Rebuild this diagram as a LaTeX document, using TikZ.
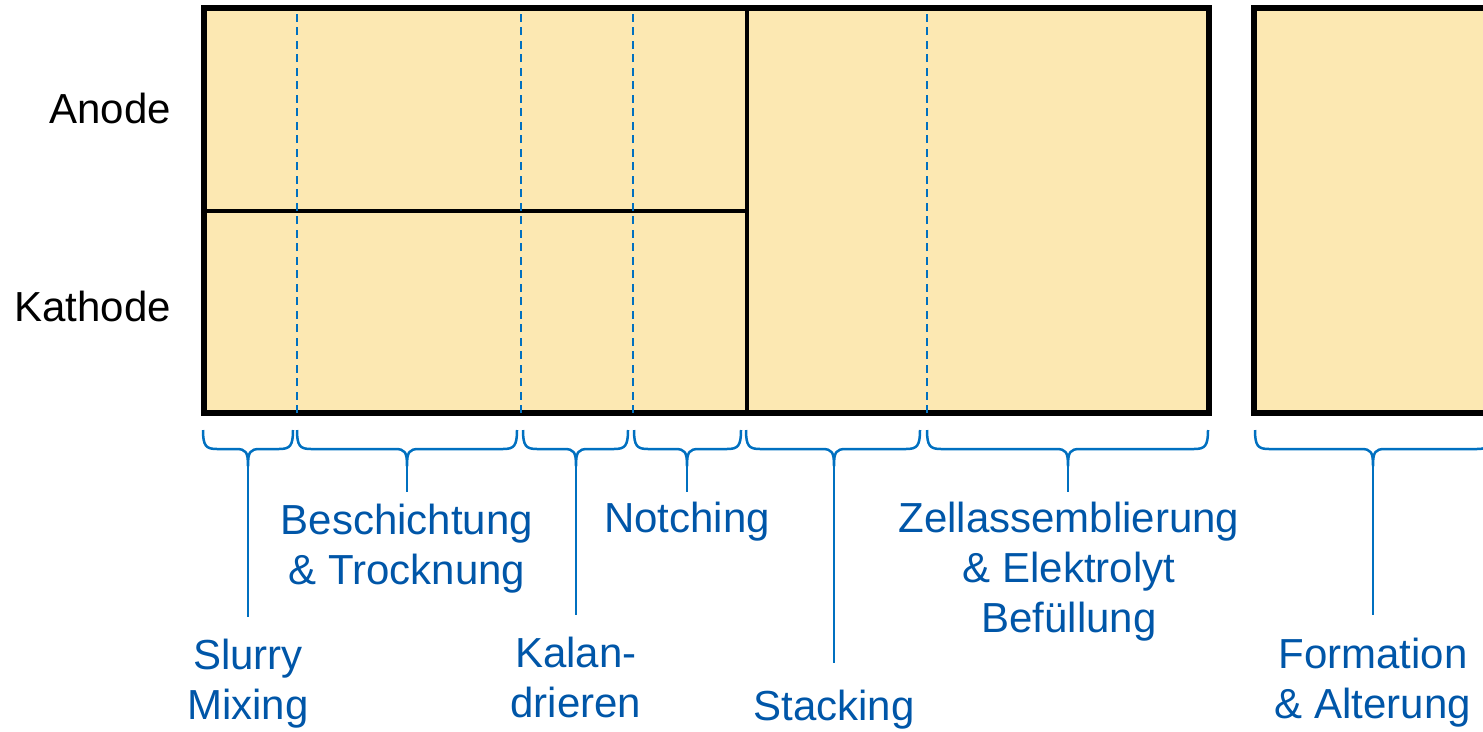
\documentclass[tikz,border=0pt]{standalone}
\usepackage{fontspec}
\setmainfont{Liberation Sans}
\definecolor{boxfill}{HTML}{FCE8B2}
\definecolor{lineblue}{HTML}{0070C0}
\definecolor{textblue}{HTML}{0056A8}
\newcommand{\stepbrace}[4]{% left x, right x, middle x, stem end y
  \draw[bline] (#1,430) .. controls (#1,446) and (#1+3,449) .. (#1+14,449)
    -- (#3-12,449) .. controls (#3-2,449) and (#3,452) .. (#3,466)
    .. controls (#3,452) and (#3+2,449) .. (#3+12,449)
    -- (#2-14,449) .. controls (#2-3,449) and (#2,446) .. (#2,430);
  \draw[bline] (#3,466) -- (#3,#4);}
\begin{document}
\begin{tikzpicture}[x=1pt,y=-1pt,
  lbl/.style={font=\fontsize{42}{50}\selectfont, text=textblue, align=center, anchor=base, inner sep=0pt},
  side/.style={font=\fontsize{42}{50}\selectfont, anchor=base east, inner sep=0pt},
  frame/.style={draw=black, line width=6pt, fill=boxfill},
  divider/.style={draw=black, line width=4pt},
  cut/.style={draw=lineblue, line width=1.8pt, dash pattern=on 8pt off 5.5pt},
  bline/.style={draw=lineblue, line width=2.5pt, line join=round}]
\useasboundingbox (0,0) rectangle (1483,731);
\clip (0,0) rectangle (1483,731);
% main block
\draw[frame] (204,8.3) rectangle (1209,413);
\draw[divider] (204,211) -- (747,211);
\draw[divider] (747,8.3) -- (747,413);
% second block
\draw[frame] (1253.7,8.3) rectangle (1530,413);
% dashed cuts
\foreach \x in {296.7,521,633,927}
  \draw[cut] (\x,413) -- (\x,12);
% side labels
\node[side] (anode) at (171,123) {Anode};
\node[side] (kathode) at (171,321) {Kathode};
% braces
\stepbrace{203}{293}{248}{617}
\stepbrace{297}{517}{407}{492}
\stepbrace{523}{628}{576}{615}
\stepbrace{634}{741}{687}{492}
\stepbrace{746}{920}{834}{663}
\stepbrace{927}{1208}{1068}{492}
\stepbrace{1255}{1491}{1373}{615}
% labels (anchor = baseline of the last line)
\node[lbl] (slurry) at (248,719) {Slurry\\Mixing};
\node[lbl] (besch) at (407,584) {Beschichtung\\\& Trocknung};
\node[lbl] (kalan) at (576,717) {Kalan-\\drieren};
\node[lbl] (notch) at (687,532) {Notching};
\node[lbl] (stack) at (834,720) {Stacking};
\node[lbl] (zell) at (1069,632) {Zellassemblierung\\\& Elektrolyt\\Befüllung};
\node[lbl] (form) at (1373,718) {Formation\\\& Alterung};
\end{tikzpicture}
\end{document}
